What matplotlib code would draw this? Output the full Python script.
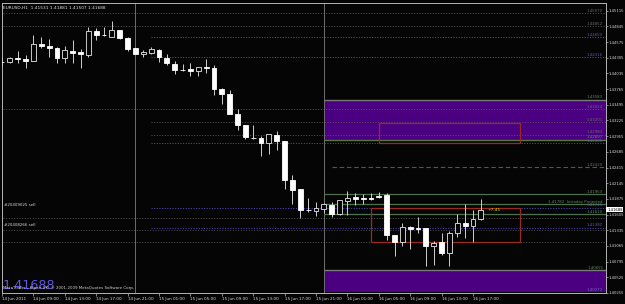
import numpy as np
from matplotlib import pyplot as plt
import matplotlib.patches as mpatches

#%% Données (EURUSD H1, barre 0 = 14 Jun 05:00)

opens = [1.44235, 1.44230, 1.44304, 1.44286, 1.44257, 1.44549, 1.44515, 1.44480, 1.44292, 1.44429,
         1.44401, 1.44360, 1.44767, 1.44698, 1.44669, 1.44784, 1.44647, 1.44470, 1.44367, 1.44394,
         1.44441, 1.44304, 1.44201, 1.44093, 1.44103, 1.44069, 1.44137, 1.44132, 1.43772, 1.43686,
         1.43338, 1.43142, 1.42931, 1.42926, 1.42840, 1.42983, 1.42875, 1.42194, 1.42044, 1.41684,
         1.41667, 1.41696, 1.41773, 1.41610, 1.41838, 1.41907, 1.41885, 1.41885, 1.41919, 1.41941,
         1.41250, 1.41125, 1.41393, 1.41370, 1.41370, 1.41067, 1.41125, 1.40941, 1.41296, 1.41456,
         1.41410, 1.41531]
highs = [1.44321, 1.44326, 1.44429, 1.44355, 1.44698, 1.44659, 1.44624, 1.44485, 1.44509, 1.44612,
         1.44458, 1.44840, 1.44813, 1.44830, 1.44943, 1.44790, 1.44659, 1.44480, 1.44441, 1.44492,
         1.44453, 1.44367, 1.44240, 1.44201, 1.44213, 1.44137, 1.44281, 1.44184, 1.43780, 1.43755,
         1.43424, 1.43148, 1.43154, 1.42954, 1.42995, 1.43051, 1.42880, 1.42279, 1.42050, 1.41897,
         1.41816, 1.41799, 1.41816, 1.41851, 1.42010, 1.41971, 1.41953, 1.41983, 1.42000, 1.41971,
         1.41255, 1.41468, 1.41410, 1.41571, 1.41375, 1.41152, 1.41296, 1.41324, 1.41610, 1.41782,
         1.41679, 1.41881]
lows = [1.44166, 1.44213, 1.44213, 1.44127, 1.44250, 1.44470, 1.44326, 1.44213, 1.44213, 1.44213,
        1.44120, 1.44316, 1.44612, 1.44681, 1.44665, 1.44624, 1.44429, 1.44365, 1.44316, 1.44367,
        1.44230, 1.44184, 1.44029, 1.44081, 1.43995, 1.43995, 1.44041, 1.43669, 1.43509, 1.43331,
        1.43069, 1.42909, 1.42909, 1.42610, 1.42640, 1.42713, 1.42039, 1.41794, 1.41554, 1.41657,
        1.41585, 1.41640, 1.41568, 1.41605, 1.41593, 1.41765, 1.41782, 1.41856, 1.41885, 1.41164,
        1.40895, 1.41067, 1.41010, 1.41296, 1.40724, 1.40736, 1.40907, 1.40724, 1.41211, 1.41194,
        1.41125, 1.41507]
closes = [1.44226, 1.44298, 1.44281, 1.44257, 1.44539, 1.44515, 1.44470, 1.44292, 1.44436, 1.44394,
          1.44367, 1.44762, 1.44698, 1.44693, 1.44784, 1.44641, 1.44463, 1.44372, 1.44407, 1.44453,
          1.44309, 1.44206, 1.44093, 1.44089, 1.44069, 1.44137, 1.44132, 1.43767, 1.43686, 1.43334,
          1.43142, 1.42936, 1.42926, 1.42840, 1.42995, 1.42880, 1.42194, 1.42027, 1.41691, 1.41679,
          1.41713, 1.41782, 1.41610, 1.41851, 1.41897, 1.41873, 1.41880, 1.41880, 1.41902, 1.41250,
          1.41125, 1.41399, 1.41365, 1.41365, 1.41067, 1.41108, 1.40941, 1.41285, 1.41468, 1.41410,
          1.41525, 1.41688]

prix_axe = [1.45115, 1.44845, 1.44575, 1.44305, 1.44035, 1.43765, 1.43495, 1.43225, 1.42955, 1.42685,
            1.42415, 1.42145, 1.41875, 1.41605, 1.41335, 1.41065, 1.40795, 1.40525, 1.40255]
barres_temps = [0, 4, 8, 12, 16, 20, 24, 28, 32, 36, 40, 44, 48, 52, 56, 60]
labels_temps = ['14 Jun 2011', '14 Jun 09:00', '14 Jun 13:00', '14 Jun 17:00', '14 Jun 21:00',
                '15 Jun 01:00', '15 Jun 05:00', '15 Jun 09:00', '15 Jun 13:00', '15 Jun 17:00',
                '15 Jun 21:00', '16 Jun 01:00', '16 Jun 05:00', '16 Jun 09:00', '16 Jun 13:00',
                '16 Jun 17:00']

# lignes horizontales
lignes_grises = [1.45070, 1.44852, 1.43424]          # avec étiquette
lignes_grises_muettes = [1.41554, 1.41341, 1.41125]  # sans étiquette
lignes_pivot = [1.43201, 1.42983]
lignes_violettes = [1.44659, 1.44316, 1.42840, 1.41725, 1.41382]
lignes_vertes = [1.41953, 1.41782, 1.41610]
ligne_tirets = 1.42429
zone_haute = [1.42897, 1.43583]
zone_basse = [1.40272, 1.40655]
rect_rouges = [(48, 66, 1.42840, 1.43183), (47, 66, 1.41125, 1.41725)]
separateurs = [17, 41]
prix_actuel = 1.41688

#%% Figure

fig = plt.figure(figsize=(6.25, 3.04), dpi=100, facecolor='#050505')
ax = fig.add_axes([2/625, 11/304, 604/625, 290/304])
ax.set_facecolor('#050505')
xmin, xmax = 0.064, 76.94
ax.set_xlim(xmin, xmax)
ax.set_ylim(1.40272, 1.45247)

# zones violettes
for (b, h) in [zone_haute, zone_basse]:
    ax.add_patch(mpatches.Rectangle((41, b), xmax - 41, h - b, facecolor='#4b0082', edgecolor='none', zorder=1))
ax.hlines(zone_haute[1], 41, xmax, color='#7a7a7a', lw=1.0, zorder=1.5)
ax.hlines(zone_haute[0], 41, xmax, color='#557a3a', lw=1.0, zorder=1.5)
ax.hlines(zone_basse[1], 41, xmax, color='#7a7a7a', lw=1.0, zorder=1.5)

for s in separateurs:
    ax.axvline(s, color='#6e6e6e', lw=0.7, zorder=1.2)

for p in lignes_grises + lignes_grises_muettes:
    ax.hlines(p, xmin, xmax, color='#5e5e5e', lw=0.6, linestyles=(0, (1.2, 2)), zorder=1.6)
for p in lignes_pivot:
    ax.hlines(p, 19, xmax, color='#5e5e5e', lw=0.6, linestyles=(0, (1.2, 2)), zorder=1.6)
for p in lignes_violettes:
    ax.hlines(p, 19, xmax, color='#4a44a8', lw=0.7, linestyles=(0, (1.2, 1.5)), zorder=1.6)
for p in lignes_vertes:
    ax.hlines(p, 41, xmax, color='#4f6f4f', lw=0.9, zorder=1.6)
ax.hlines(ligne_tirets, 42, xmax, color='#555555', lw=0.8, linestyles=(0, (4, 2.5)), zorder=1.6)

for (g, d, b, h) in rect_rouges:
    ax.add_patch(mpatches.Rectangle((g, b), d - g, h - b, fill=False, edgecolor='#9b2a1e', lw=0.9, zorder=1.7))

# étiquettes des lignes
tr = ax.get_yaxis_transform()
for p in lignes_grises + lignes_pivot + [ligne_tirets]:
    ax.text(0.995, p + 0.00003, f'{p:.5f}', transform=tr, ha='right', va='bottom', fontsize=2.8, color='#6a6a6a', zorder=5)
for p in lignes_violettes:
    ax.text(0.995, p + 0.00003, f'{p:.5f}', transform=tr, ha='right', va='bottom', fontsize=2.8, color='#5a54b8', zorder=5)
for p in [lignes_vertes[0], lignes_vertes[2], zone_haute[1], zone_haute[0], zone_basse[1]]:
    ax.text(0.995, p + 0.00003, f'{p:.5f}', transform=tr, ha='right', va='bottom', fontsize=2.8, color='#5f8a5a', zorder=5)
ax.text(0.995, lignes_vertes[1] + 0.00003, f'{lignes_vertes[1]:.5f}  Intraday Projected', transform=tr,
        ha='right', va='bottom', fontsize=2.8, color='#5f8a5a', zorder=5)
ax.text(0.995, zone_basse[0] + 0.00003, f'{zone_basse[0]:.5f}', transform=tr, ha='right', va='bottom',
        fontsize=2.8, color='#7a6ad0', zorder=5)

# chandeliers
x = np.arange(len(opens))
o, h, l, c = map(np.array, (opens, highs, lows, closes))
ax.vlines(x, l, h, color='#cfcfcf', lw=0.7, zorder=3)
hausse = c >= o
ax.bar(x[hausse], np.maximum(c - o, 0.00002)[hausse], bottom=o[hausse], width=0.62,
       color='#050505', edgecolor='#e8e8e8', lw=0.6, zorder=4)
ax.bar(x[~hausse], np.maximum(o - c, 0.00002)[~hausse], bottom=c[~hausse], width=0.62,
       color='white', edgecolor='white', lw=0.6, zorder=4)

# textes
ax.text(0.004, lignes_violettes[3] + 0.00005, '#20409025 sell', transform=tr, fontsize=2.9, color='#d8d8d8', va='bottom')
ax.text(0.004, lignes_violettes[4] + 0.00005, '#20408266 sell', transform=tr, fontsize=2.9, color='#d8d8d8', va='bottom')
ax.text(61.8, 1.41679, '+7.41', fontsize=3.2, color='#d8d800', va='center', ha='left', zorder=6)

# axes
for sp in ax.spines.values():
    sp.set_color('#b4b4b4')
    sp.set_linewidth(0.7)
ax.yaxis.tick_right()
ax.set_yticks(prix_axe)
ax.set_yticklabels([f'{p:.5f}' for p in prix_axe])
ax.set_xticks(barres_temps)
ax.set_xticklabels(labels_temps, ha='left')
ax.tick_params(axis='both', colors='#b4b4b4', labelcolor='#d8d8d8', labelsize=3.0, length=2, width=0.5, pad=1)
ax.tick_params(axis='y', labelsize=2.7, length=1.5, pad=0.6)
for lab in ax.get_yticklabels():
    lab.set_clip_on(False)

ax.text(1.002, prix_actuel, f'{prix_actuel:.5f}', transform=tr, fontsize=2.7, color='black', va='center', ha='left',
        bbox=dict(facecolor='white', edgecolor='none', pad=0.5), zorder=10)

fig.text(3/625, 1 - 8.7/304, 'EURUSD,H1  1.41531 1.41881 1.41507 1.41688', fontsize=3.1, color='#e0e0e0', va='baseline')
fig.text(3/625, 1 - 289/304, '1.41688', fontsize=9.2, color='#6458e6', va='baseline')
fig.text(3/625, 1 - 288.5/304, 'MetaTrader - Alpari UK, \u00a9 2001-2009 MetaQuotes Software Corp.', fontsize=2.9,
         color='#d0d0d0', va='baseline')

plt.savefig('out.png', dpi=100, facecolor=fig.get_facecolor())
